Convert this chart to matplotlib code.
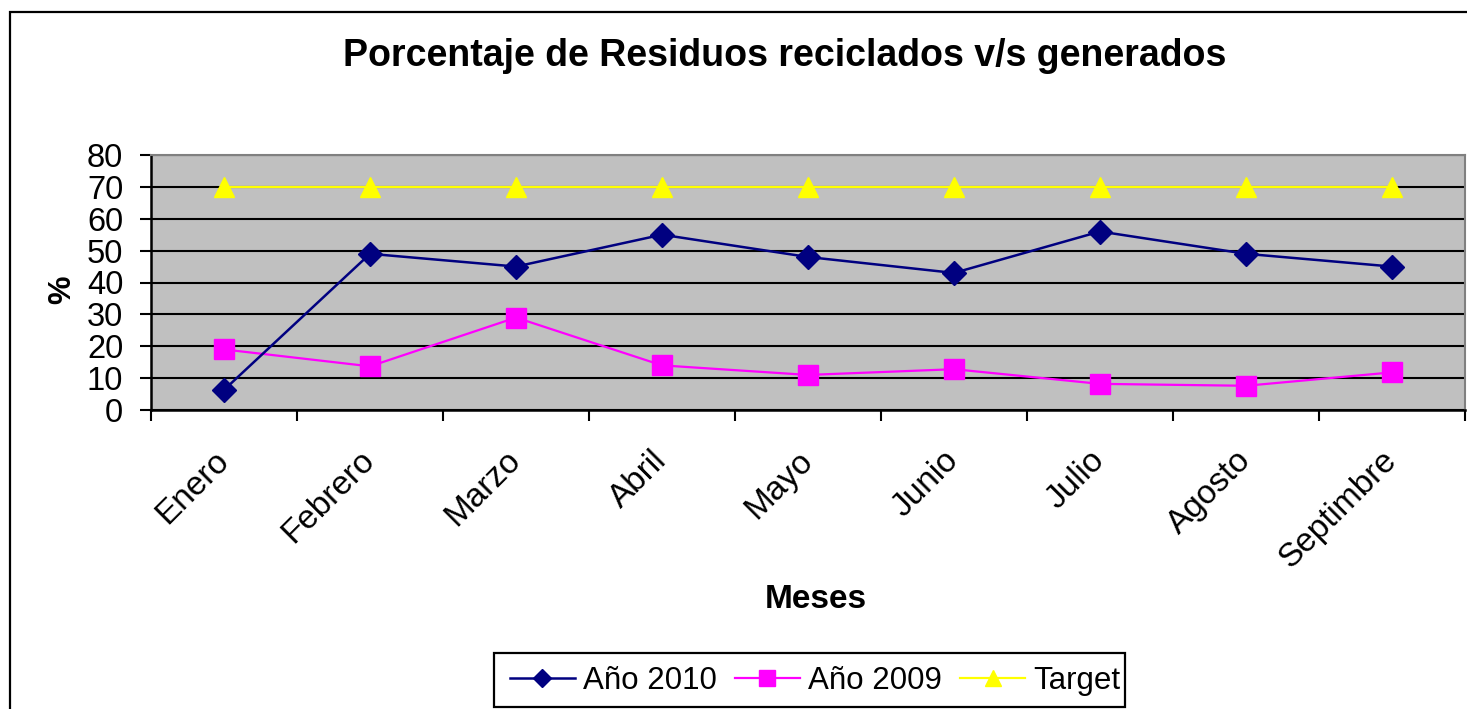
import matplotlib.pyplot as plt
import numpy as np
from matplotlib.patches import Rectangle

plt.rcParams["font.family"] = ["Liberation Sans", "DejaVu Sans"]

meses = ["Enero", "Febrero", "Marzo", "Abril", "Mayo", "Junio", "Julio", "Agosto", "Septimbre"]
anio_2010 = [6.3, 49, 45, 55, 48, 43, 56, 49, 45]
anio_2009 = [19, 13.7, 29, 14, 11, 12.8, 8.2, 7.6, 11.8]
target = [70, 70, 70, 70, 70, 70, 70, 70, 70]

W, H = 1467, 709
fig = plt.figure(figsize=(W / 100, H / 100), dpi=100)

# outer chart frame (cut at right and bottom)
fig.patches.append(Rectangle((10 / W, -0.05), 1.1, 1 - 12 / H + 0.05,
                             transform=fig.transFigure, fill=False,
                             edgecolor="black", linewidth=1.6))

ax = fig.add_axes([151 / W, 1 - 410 / H, 1314 / W, 255 / H])
ax.set_facecolor("#C0C0C0")

x = np.arange(len(meses))
ax.plot(x, target, color="#FFFF00", linewidth=1.6, marker="^", markersize=14,
        markeredgecolor="#FFFF00", label="Target", zorder=3)
ax.plot(x, anio_2009, color="#FF00FF", linewidth=1.6, marker="s", markersize=14,
        markeredgecolor="#FF00FF", label="Año 2009", zorder=4)
ax.plot(x, anio_2010, color="#000080", linewidth=1.8, marker="D", markersize=12,
        markeredgecolor="#000080", label="Año 2010", zorder=5)

ax.set_xlim(-0.5, len(meses) - 0.5)
ax.set_ylim(0, 80)
ax.set_yticks(np.arange(0, 81, 10))
ax.yaxis.grid(True, color="black", linewidth=1.5)
ax.set_axisbelow(True)

ax.set_xticks(x)
ax.set_xticklabels(meses, rotation=45, ha="right", va="center",
                   rotation_mode="anchor", fontsize=24)
ax.set_xticks(np.arange(-0.5, len(meses)), minor=True)
ax.tick_params(axis="x", which="major", length=0, pad=33)
ax.tick_params(axis="x", which="minor", length=8, width=1.5, direction="out")
ax.tick_params(axis="y", labelsize=23.5, length=8, width=1.5, pad=12)

for side in ("top", "right"):
    ax.spines[side].set_color("#808080")
    ax.spines[side].set_linewidth(1.5)
for side in ("left", "bottom"):
    ax.spines[side].set_color("black")
    ax.spines[side].set_linewidth(1.8)

fig.text(785 / W, 1 - 56 / H, "Porcentaje de Residuos reciclados v/s generados",
         ha="center", va="center", fontsize=27, fontweight="bold")
fig.text(816 / W, 1 - 600 / H, "Meses", ha="center", va="center",
         fontsize=24, fontweight="bold")
fig.text(62 / W, 1 - 290 / H, "%", ha="center", va="center", rotation=90,
         fontsize=23, fontweight="bold")

# legend box drawn separately so its size matches the reference
fig.patches.append(Rectangle((494 / W, 1 - 707 / H), 631 / W, 54 / H,
                             transform=fig.transFigure, fill=False,
                             edgecolor="black", linewidth=1.6))
handles, labels = ax.get_legend_handles_labels()
order = [2, 1, 0]
leg = fig.legend([handles[i] for i in order], [labels[i] for i in order],
                 loc="center", bbox_to_anchor=(815 / W, 1 - 681 / H), ncol=3,
                 fontsize=22.5, frameon=False,
                 handlelength=2.08, handletextpad=0.26, columnspacing=0.58,
                 borderpad=0, borderaxespad=0)
for h in leg.legend_handles:
    h.set_markersize(h.get_markersize() * 0.8)

fig.savefig("out.png", dpi=100)
